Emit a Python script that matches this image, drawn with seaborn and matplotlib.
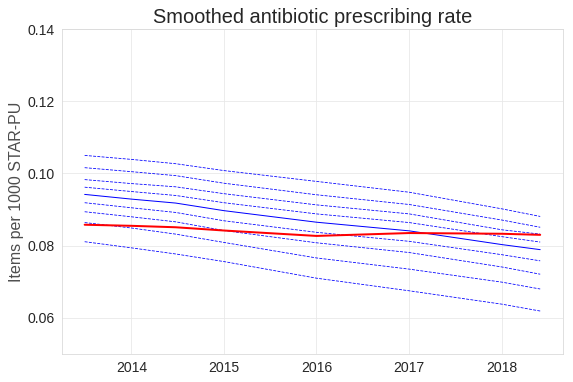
#!/usr/bin/env python3
import seaborn as sns
from matplotlib import pyplot as plt
import matplotlib.dates as mdates
import pandas as pd

dates = pd.to_datetime([
    "2013-07-01", "2014-01-01", "2014-06-25", "2015-01-01",
    "2016-01-01", "2017-01-01", "2018-01-01", "2018-06-01",
])

# deciles of practices (10th .. 90th)
p10 = [0.0811, 0.0794, 0.0777, 0.0756, 0.0710, 0.0675, 0.0638, 0.0619]
p20 = [0.0864, 0.0849, 0.0832, 0.0809, 0.0766, 0.0735, 0.0699, 0.0680]
p30 = [0.0894, 0.0880, 0.0866, 0.0842, 0.0808, 0.0781, 0.0741, 0.0721]
p40 = [0.0919, 0.0905, 0.0892, 0.0869, 0.0837, 0.0812, 0.0775, 0.0758]
p50 = [0.0942, 0.0929, 0.0918, 0.0897, 0.0865, 0.0841, 0.0803, 0.0789]
p60 = [0.0962, 0.0950, 0.0939, 0.0919, 0.0888, 0.0864, 0.0825, 0.0810]
p70 = [0.0983, 0.0972, 0.0963, 0.0944, 0.0913, 0.0888, 0.0844, 0.0832]
p80 = [0.1016, 0.1005, 0.0994, 0.0973, 0.0941, 0.0914, 0.0871, 0.0851]
p90 = [0.1050, 0.1039, 0.1027, 0.1008, 0.0978, 0.0948, 0.0902, 0.0881]

# the practice itself
practice = [0.0858, 0.0855, 0.0851, 0.0842, 0.0827, 0.0835, 0.0833, 0.0830]

sns.set_style("whitegrid", {"grid.color": "0.91", "axes.edgecolor": "0.85"})
plt.rcParams["font.family"] = ["Liberation Sans", "DejaVu Sans"]

fig, ax = plt.subplots(figsize=(573 / 72, 382 / 72), dpi=72)
fig.subplots_adjust(left=0.108, right=0.9825, top=0.924, bottom=0.0733)

for vals in [p10, p20, p30, p40, p60, p70, p80, p90]:
    sns.lineplot(x=dates, y=vals, ax=ax, color="blue", linestyle="--", linewidth=0.8)
sns.lineplot(x=dates, y=p50, ax=ax, color="blue", linewidth=1.0)
sns.lineplot(x=dates, y=practice, ax=ax, color="red", linewidth=2.0)

ax.set_ylim(0.05, 0.14)
ax.set_title("Smoothed antibiotic prescribing rate", fontsize=20, color="0.15")
ax.set_ylabel("Items per 1000 STAR-PU", fontsize=16, color="0.3")
ax.set_xlabel("")
ax.tick_params(labelsize=14, colors="0.15")
ax.xaxis.set_major_locator(mdates.YearLocator())
ax.xaxis.set_major_formatter(mdates.DateFormatter("%Y"))

fig.savefig("out.png", dpi=72)
